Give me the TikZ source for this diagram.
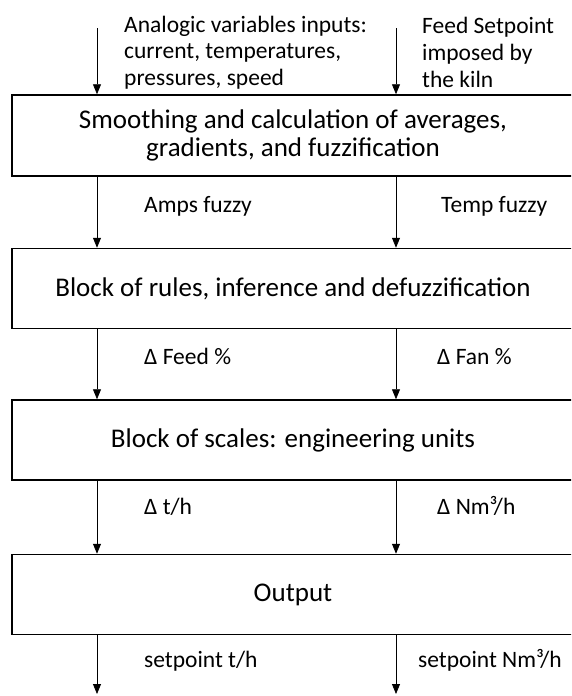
\documentclass[tikz,border=0pt]{standalone}
\usepackage{fontspec}
\setmainfont{Carlito}
\usetikzlibrary{arrows.meta,positioning}

\tikzset{
  block/.style={draw, line width=1.5pt, minimum width=562pt, minimum height=80pt,
    inner sep=0pt, align=center, font=\fontsize{27}{28}\selectfont},
  flow/.style={-{Triangle[width=8pt,length=10pt]}, line width=0.8pt},
  lbl/.style={anchor=west, inner sep=0pt, align=left, font=\fontsize{23.5}{26.7}\selectfont},
  tag/.style={anchor=base west, inner sep=0pt, font=\fontsize{23.5}{26.7}\selectfont}
}

\begin{document}
\begin{tikzpicture}[x=1pt,y=-1pt]
    \clip (0,0) rectangle (571,696);
    \useasboundingbox (0,0) rectangle (571,696);

    \node[block, minimum height=81pt] (smooth) at (293,135.5) {Smoothing and calculation of averages,\\gradients, and fuzzification};
    \node[block, below=71pt of smooth] (rules) {Block of rules, inference and defuzzification};
    \node[block, below=70pt of rules] (scales) {Block of scales: engineering units};
    \node[block, below=73pt of scales] (output) {Output};

    \coordinate (inL) at (97,28);
    \coordinate (inR) at (396,28);
    \coordinate (outL) at (97,694);
    \coordinate (outR) at (396,694);

    \node[lbl] (analog) at (124,52.5) {Analogic variables inputs:\\current, temperatures,\\pressures, speed};
    \node[lbl] (feedsp) at (422,52.5) {Feed Setpoint\\imposed by\\the kiln};
    \node[tag] (amps) at (144,212.5) {Amps fuzzy};
    \node[tag] (temp) at (441,212.5) {Temp fuzzy};
    \node[tag] (dfeed) at (144,364) {Δ Feed \%};
    \node[tag] (dfan) at (437,364) {Δ Fan \%};
    \node[tag] (dth) at (144,514) {Δ t/h};
    \node[tag] (dnm) at (437,514) {Δ Nm³/h};
    \node[tag] (spth) at (144,667) {setpoint t/h};
    \node[tag] (spnm) at (418,667) {setpoint Nm³/h};

    \draw[flow] (inL) -- (inL |- smooth.north);
    \draw[flow] (inR) -- (inR |- smooth.north);
    \draw[flow] (smooth.south -| inL) -- (rules.north -| inL);
    \draw[flow] (smooth.south -| inR) -- (rules.north -| inR);
    \draw[flow] (rules.south -| inL) -- (scales.north -| inL);
    \draw[flow] (rules.south -| inR) -- (scales.north -| inR);
    \draw[flow] (scales.south -| inL) -- (output.north -| inL);
    \draw[flow] (scales.south -| inR) -- (output.north -| inR);
    \draw[flow] (output.south -| inL) -- (outL);
    \draw[flow] (output.south -| inR) -- (outR);
\end{tikzpicture}
\end{document}
